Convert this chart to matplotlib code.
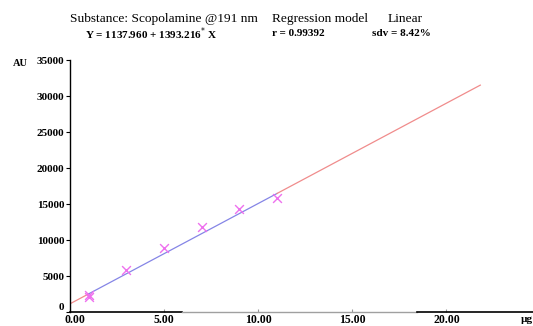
import matplotlib
matplotlib.use("Agg")
import matplotlib.pyplot as plt
import matplotlib.transforms as mtransforms
import numpy as np

# Data
amount_ug = [1, 1, 3, 5, 7, 9, 11]
area_au = [2100, 2350, 5830, 8890, 11760, 14300, 15790]
intercept = 1137.960
slope = 1393.216
x_fit_start, x_fit_low, x_fit_high, x_fit_end = 0.0, 1.0, 11.0, 21.8
x_ticks = [0, 5, 10, 15, 20]
x_tick_labels = ["0.00", "5.00", "10.00", "15.00", "20.00"]
y_ticks = [0, 5000, 10000, 15000, 20000, 25000, 30000, 35000]
y_tick_labels = ["0", "5000", "10000", "15000", "20000", "25000", "30000", "35000"]

W, H = 533, 326
fig = plt.figure(figsize=(W / 100, H / 100), dpi=100)
serif = ["Liberation Serif", "DejaVu Serif"]
plt.rcParams['font.family'] = serif

ax_left, ax_bottom, ax_top, ax_right = 70, 312, 60, 533
ax = fig.add_axes([ax_left / W, 1 - ax_bottom / H, (ax_right - ax_left) / W, (ax_bottom - ax_top) / H])
ax.set_xlim(0, 24.6)
ax.set_ylim(0, 35000)

def fit(x):
    return intercept + slope * np.asarray(x)

red = "#f08c8c"
blue = "#8585e6"
xs = np.array([x_fit_start, x_fit_low])
ax.plot(xs, fit(xs), color=red, lw=0.9)
xs = np.array([x_fit_low, x_fit_high])
ax.plot(xs, fit(xs), color=blue, lw=0.9)
xs = np.array([x_fit_high, x_fit_end])
ax.plot(xs, fit(xs), color=red, lw=0.9)

ax.scatter(amount_ug, area_au, marker="x", s=40, color="#ee70ee", linewidths=1.0, zorder=3)

for s in ["top", "right", "bottom"]:
    ax.spines[s].set_visible(False)
ax.spines["left"].set_linewidth(1.0)

# x-axis line (black / gray / black segments as in the reference)
ax.axhline(0, xmin=0, xmax=0.242, color="black", lw=1.2, clip_on=False)
ax.axhline(0, xmin=0.242, xmax=0.749, color="#a0a0a0", lw=1.0, clip_on=False)
ax.axhline(0, xmin=0.749, xmax=1.0, color="black", lw=1.2, clip_on=False)

ax.set_xticks(x_ticks)
ax.set_xticklabels(x_tick_labels, fontsize=8.5, fontweight="bold")
ax.set_yticks(y_ticks)
ax.set_yticklabels(y_tick_labels, fontsize=8, fontweight="bold")
ax.tick_params(axis="x", length=2, direction="in", pad=1.5, color="#999999")
ax.tick_params(axis="y", length=3, width=0.8, pad=1)
ax.get_yticklabels()[0].set_va("bottom")
lbl0 = ax.get_xticklabels()[0]
lbl0.set_transform(lbl0.get_transform() + mtransforms.ScaledTranslation(5 / 100, 0, fig.dpi_scale_trans))

fig.text(20 / W, 1 - 64 / H, "AU", fontsize=7.5, fontweight="bold", ha="center", va="center")
fig.text(527 / W, 1 - 320 / H, "µg", fontsize=8, fontweight="bold", ha="center", va="center")

y1 = 1 - 19 / H
fig.text(70 / W, y1, "Substance: Scopolamine @191 nm", fontsize=9.6, ha="left", va="center")
fig.text(272 / W, y1, "Regression model", fontsize=9.6, ha="left", va="center")
fig.text(388 / W, y1, "Linear", fontsize=9.6, ha="left", va="center")
y2 = 1 - 34 / H
fig.text(85 / W, y2, "Y = 1137.960 + 1393.216$^{*}$ X", fontsize=8, fontweight="bold", ha="left", va="center")
fig.text(272 / W, y2, "r = 0.99392", fontsize=8, fontweight="bold", ha="left", va="center")
fig.text(372 / W, y2, "sdv = 8.42%", fontsize=8, fontweight="bold", ha="left", va="center")

fig.savefig("out.png", dpi=100, facecolor="white")
